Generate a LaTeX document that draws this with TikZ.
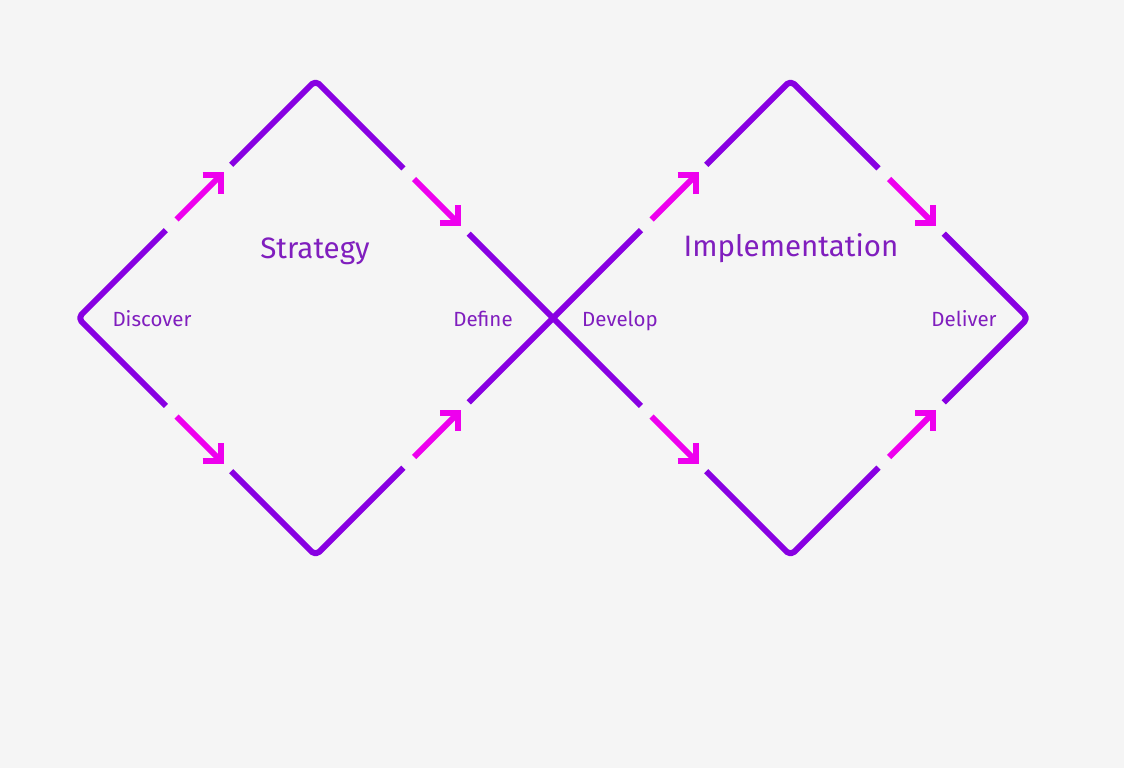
\documentclass[tikz,border=0pt]{standalone}
\usepackage{fontspec}
\setmainfont{Fira Sans}
\usetikzlibrary{calc}
\definecolor{bgc}{RGB}{245,245,245}
\definecolor{linep}{RGB}{136,0,226}
\definecolor{arrm}{RGB}{238,0,238}
\definecolor{txtp}{RGB}{128,30,190}
\tikzset{
  edge/.style={draw=linep, line width=6pt, line join=round, line cap=butt, rounded corners=5pt},
  shaft/.style={draw=arrm, line width=6pt, line cap=butt},
  barb/.style={draw=arrm, line width=6pt, line cap=butt, line join=miter},
  title/.style={text=txtp, anchor=base, font=\fontsize{29.5}{34}\selectfont},
  phase/.style={text=txtp, anchor=base, font=\fontsize{20.5}{24}\selectfont},
}
\begin{document}
\begin{tikzpicture}[x=1pt,y=-1pt]
\fill[bgc] (0,0) rectangle (1124,768);
\useasboundingbox (0,0) rectangle (1124,768);
% vertices
\coordinate (L1) at (78,318);
\coordinate (T1) at (315.5,80.5);
\coordinate (B1) at (315.5,555.5);
\coordinate (C) at (553,318);
\coordinate (T2) at (790.5,80.5);
\coordinate (B2) at (790.5,555.5);
\coordinate (R2) at (1028,318);
% edge points: a = end of first purple, b = arrow start, c = arrow tip, d = restart purple
\foreach \e/\s/\t in {1/L1/T1, 2/T1/C, 3/L1/B1, 4/B1/C, 5/C/T2, 6/T2/R2, 7/C/B2, 8/B2/R2}{
  \coordinate (e\e a) at ($(\s)!0.37!(\t)$);
  \coordinate (e\e b) at ($(\s)!0.415!(\t)$);
  \coordinate (e\e c) at ($(\s)!0.60!(\t)$);
  \coordinate (e\e d) at ($(\s)!0.645!(\t)$);
}
% purple segments
\draw[edge] (e1a) -- (L1) -- (e3a);
\draw[edge] (e1d) -- (T1) -- (e2a);
\draw[edge] (e3d) -- (B1) -- (e4a);
\draw[edge] (e2d) -- (C) -- (e7a);
\draw[edge] (e4d) -- (C) -- (e5a);
\draw[edge] (e5d) -- (T2) -- (e6a);
\draw[edge] (e7d) -- (B2) -- (e8a);
\draw[edge] (e6d) -- (R2) -- (e8d);
% up-right arrows
\foreach \e in {1,4,5,8}{
  \draw[shaft] (e\e b) -- (e\e c);
  \draw[barb] ($(e\e c)+(-18,0)$) -- (e\e c) -- ($(e\e c)+(0,18)$);
}
% down-right arrows
\foreach \e in {2,3,6,7}{
  \draw[shaft] (e\e b) -- (e\e c);
  \draw[barb] ($(e\e c)+(-18,0)$) -- (e\e c) -- ($(e\e c)+(0,-18)$);
}
% labels
\node[title] (strategy) at (315,258) {Strategy};
\node[title] (impl) at (791,256) {Implementation};
\node[phase] (discover) at (152,326) {Discover};
\node[phase] (define) at (483,326) {Define};
\node[phase] (develop) at (620,326) {Develop};
\node[phase] (deliver) at (964,326) {Deliver};
\end{tikzpicture}
\end{document}
